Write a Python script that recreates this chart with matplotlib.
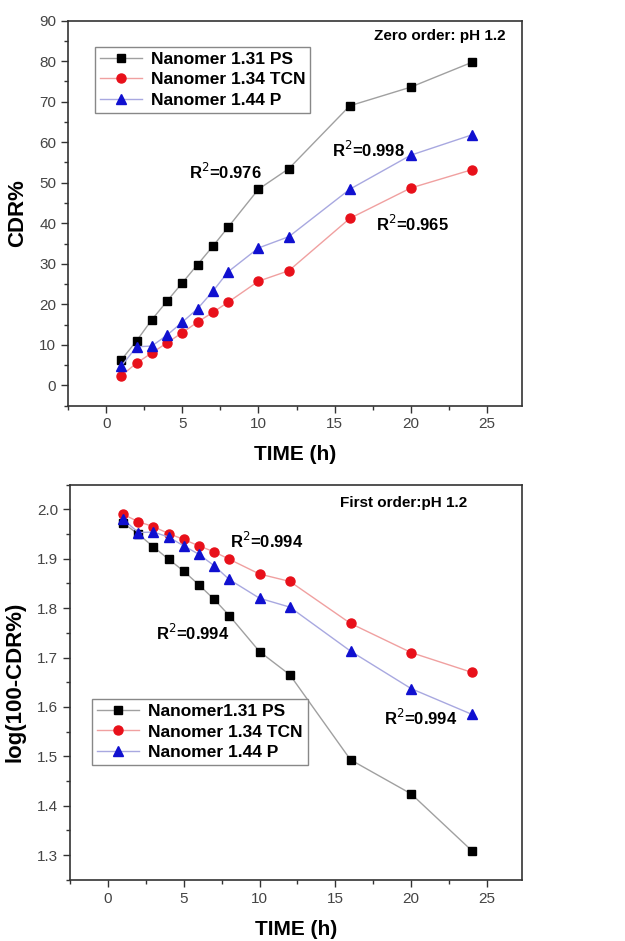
import matplotlib
matplotlib.use("Agg")
import matplotlib.pyplot as plt
from matplotlib.ticker import MultipleLocator

plt.rcParams['font.family'] = ['Liberation Sans', 'DejaVu Sans']

time_h = [1, 2, 3, 4, 5, 6, 7, 8, 10, 12, 16, 20, 24]

# zero order (CDR%)
cdr_ps = [6.3, 11.0, 16.2, 20.8, 25.3, 29.8, 34.3, 39.0, 48.4, 53.5, 69.0, 73.6, 79.7]
cdr_tcn = [2.4, 5.5, 8.0, 10.5, 13.0, 15.6, 18.0, 20.5, 25.7, 28.3, 41.2, 48.7, 53.2]
cdr_p = [4.8, 9.5, 9.7, 12.4, 15.6, 18.9, 23.2, 28.0, 33.9, 36.7, 48.4, 56.8, 61.8]

# first order log(100-CDR%)
log_ps = [1.972, 1.950, 1.924, 1.899, 1.875, 1.847, 1.818, 1.785, 1.712, 1.665, 1.493, 1.424, 1.309]
log_tcn = [1.990, 1.975, 1.965, 1.951, 1.939, 1.926, 1.914, 1.899, 1.869, 1.854, 1.769, 1.710, 1.670]
log_p = [1.980, 1.953, 1.954, 1.944, 1.926, 1.909, 1.886, 1.858, 1.820, 1.802, 1.713, 1.637, 1.585]

labels_top = ['Nanomer 1.31 PS', 'Nanomer 1.34 TCN', 'Nanomer 1.44 P']
labels_bot = ['Nanomer1.31 PS', 'Nanomer 1.34 TCN', 'Nanomer 1.44 P']

styles = [
    dict(marker='s', color='#a0a0a0', mfc='black', mec='black', ms=6),
    dict(marker='o', color='#f0a0a0', mfc='#e8101a', mec='#e8101a', ms=6.5),
    dict(marker='^', color='#a8a8e0', mfc='#1010d0', mec='#1010d0', ms=7),
]

fig = plt.figure(figsize=(6.25, 9.41), dpi=100)
ax1 = fig.add_axes([0.109, 0.569, 0.726, 0.409])
ax2 = fig.add_axes([0.112, 0.065, 0.723, 0.420])


def style_axis(ax):
    for s in ax.spines.values():
        s.set_linewidth(1.2)
        s.set_color('#333333')
    ax.xaxis.set_major_locator(MultipleLocator(5))
    ax.xaxis.set_minor_locator(MultipleLocator(2.5))
    ax.tick_params(which='both', direction='out', top=False, right=False,
                   labelsize=11, labelcolor='#444444', color='#333333')
    ax.tick_params(which='major', length=5, width=1)
    ax.tick_params(which='minor', length=3, width=1)
    ax.set_xlim(-2.5, 27.3)
    ax.set_xlabel('TIME (h)', fontsize=15, fontweight='bold', labelpad=10)


legend_kw = dict(prop={'weight': 'bold', 'size': 12.5}, fancybox=False,
                 edgecolor='#888888', handlelength=2.4, borderpad=0.3,
                 labelspacing=0.3, handletextpad=0.5, framealpha=1)

for ys, st, lab in zip([cdr_ps, cdr_tcn, cdr_p], styles, labels_top):
    ax1.plot(time_h, ys, lw=1, label=lab, **st)
style_axis(ax1)
ax1.set_ylim(-5, 90)
ax1.yaxis.set_major_locator(MultipleLocator(10))
ax1.yaxis.set_minor_locator(MultipleLocator(5))
ax1.set_ylabel('CDR%', fontsize=16, fontweight='bold', labelpad=8)
ax1.legend(loc='upper left', bbox_to_anchor=(0.04, 0.955), **legend_kw)
ax1.text(21.9, 86.2, 'Zero order: pH 1.2', fontsize=11, fontweight='bold', ha='center', va='center')
ax1.text(7.8, 52.6, 'R$^2$=0.976', fontsize=12, fontweight='bold', ha='center', va='center')
ax1.text(17.2, 58.0, 'R$^2$=0.998', fontsize=12, fontweight='bold', ha='center', va='center')
ax1.text(20.1, 39.8, 'R$^2$=0.965', fontsize=12, fontweight='bold', ha='center', va='center')

for ys, st, lab in zip([log_ps, log_tcn, log_p], styles, labels_bot):
    ax2.plot(time_h, ys, lw=1, label=lab, **st)
style_axis(ax2)
ax2.set_ylim(1.25, 2.05)
ax2.yaxis.set_major_locator(MultipleLocator(0.1))
ax2.yaxis.set_minor_locator(MultipleLocator(0.05))
ax2.set_ylabel('log(100-CDR%)', fontsize=16, fontweight='bold', labelpad=8)
ax2.legend(loc='upper left', bbox_to_anchor=(0.03, 0.48), **legend_kw)
ax2.text(19.5, 2.013, 'First order:pH 1.2', fontsize=11, fontweight='bold', ha='center', va='center')
ax2.text(10.5, 1.936, 'R$^2$=0.994', fontsize=12, fontweight='bold', ha='center', va='center')
ax2.text(5.6, 1.750, 'R$^2$=0.994', fontsize=12, fontweight='bold', ha='center', va='center')
ax2.text(20.6, 1.577, 'R$^2$=0.994', fontsize=12, fontweight='bold', ha='center', va='center')

fig.savefig('out.png', dpi=100)
